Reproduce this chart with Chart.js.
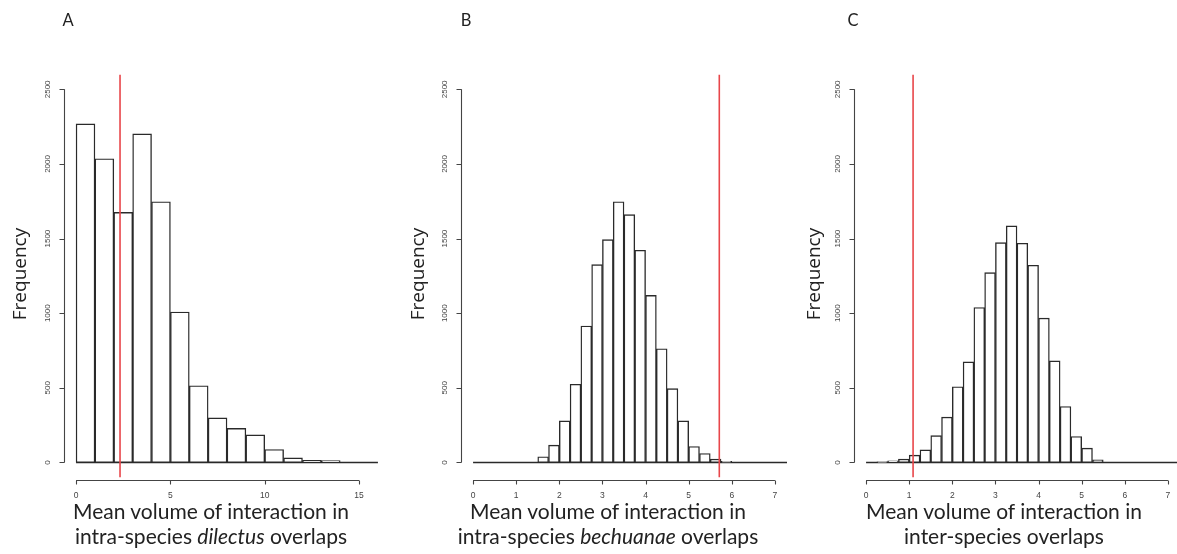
<!DOCTYPE html>
<html>
<head>
<meta charset="utf-8">
<script src="https://cdn.jsdelivr.net/npm/chart.js@4.4.1/dist/chart.umd.min.js"></script>
<style>
  html, body { margin: 0; padding: 0; background: #fff; }
  body { width: 1177px; height: 554px; position: relative; overflow: hidden; font-family: Lato, "Open Sans", sans-serif; color: #222; }
  .panel { position: absolute; top: 0; width: 395px; height: 554px; }
  .panel canvas { position: absolute; left: 0; top: 0; }
  .letter { position: absolute; top: 10px; font-size: 16.5px; width: 20px; margin-left: -10px; text-align: center; }
  .ylab { position: absolute; top: 274px; width: 120px; margin-left: -60px; margin-top: -12px; height: 24px; line-height: 24px;
          text-align: center; font-family: "Open Sans", sans-serif; font-size: 19px; transform: rotate(-90deg); }
  .xlab { position: absolute; top: 498px; width: 380px; margin-left: -190px; text-align: center; font-size: 21px; line-height: 25px; }
</style>
</head>
<body>

<div class="panel" style="left:0px"><canvas id="histA" width="395" height="554"></canvas></div>
<div class="panel" style="left:397px"><canvas id="histB" width="395" height="554"></canvas></div>
<div class="panel" style="left:790px"><canvas id="histC" width="395" height="554"></canvas></div>

<div class="letter" style="left:68px">A</div>
<div class="letter" style="left:466px">B</div>
<div class="letter" style="left:853px">C</div>

<div class="ylab" style="left:19px">Frequency</div>
<div class="ylab" style="left:417px">Frequency</div>
<div class="ylab" style="left:813px">Frequency</div>

<div class="xlab" style="left:211px">Mean volume of interaction in<br>intra-species <i>dilectus</i> overlaps</div>
<div class="xlab" style="left:608px">Mean volume of interaction in<br>intra-species <i>bechuanae</i> overlaps</div>
<div class="xlab" style="left:1004px">Mean volume of interaction in<br>inter-species overlaps</div>

<script>
// histogram counts, one entry per bin
var countsA = [2268, 2035, 1676, 2201, 1747, 1008, 514, 299, 228, 185, 87, 31, 15, 12];
var countsB = [38, 116, 279, 524, 914, 1326, 1493, 1747, 1660, 1422, 1119, 762, 495, 279, 107, 60, 22, 7];
var countsC = [4, 11, 22, 49, 84, 180, 304, 507, 674, 1038, 1272, 1473, 1585, 1469, 1321, 967, 681, 375, 174, 96, 18];

// first break and bin width
var binsA = { start: 0, width: 1 };
var binsB = { start: 1.5, width: 0.25 };
var binsC = { start: 0.25, width: 0.25 };

// observed value (red line)
var observedA = 2.33;
var observedB = 5.71;
var observedC = 1.09;

// axis ticks
var yTicks = [0, 500, 1000, 1500, 2000, 2500];
var xTicksA = [0, 5, 10, 15];
var xTicksBC = [0, 1, 2, 3, 4, 5, 6, 7];

// x range covered by the empty bins along the zero line
var rangeA = [0, 16];
var rangeBC = [0, 7.5];

// R style detached axes
var rAxes = {
    id: 'rAxes',
    afterDraw: function (chart) {
        var o = chart.options.plugins.rAxes;
        var ctx = chart.ctx, xs = chart.scales.x, ys = chart.scales.y, area = chart.chartArea;
        ctx.save();
        ctx.strokeStyle = '#444';
        ctx.lineWidth = 1.1;
        ctx.fillStyle = '#444';
        ctx.font = '8px "Liberation Sans", Arial, sans-serif';

        // y axis
        var ax = Math.round(area.left) + 0.5;
        ctx.beginPath();
        ctx.moveTo(ax, ys.getPixelForValue(o.yTicks[0]));
        ctx.lineTo(ax, ys.getPixelForValue(o.yTicks[o.yTicks.length - 1]));
        o.yTicks.forEach(function (v) {
            var p = Math.round(ys.getPixelForValue(v)) + 0.5;
            ctx.moveTo(ax, p);
            ctx.lineTo(ax - 5, p);
        });
        ctx.stroke();
        ctx.textAlign = 'center';
        ctx.textBaseline = 'middle';
        o.yTicks.forEach(function (v) {
            ctx.save();
            ctx.translate(ax - 17, ys.getPixelForValue(v));
            ctx.rotate(-Math.PI / 2);
            ctx.fillText(String(v), 0, 0);
            ctx.restore();
        });

        // x axis
        var ay = Math.round(area.bottom + 2.6) + 0.5;
        ctx.beginPath();
        ctx.moveTo(xs.getPixelForValue(o.xTicks[0]), ay);
        ctx.lineTo(xs.getPixelForValue(o.xTicks[o.xTicks.length - 1]), ay);
        o.xTicks.forEach(function (v) {
            var p = Math.round(xs.getPixelForValue(v)) + 0.5;
            ctx.moveTo(p, ay);
            ctx.lineTo(p, ay + 4);
        });
        ctx.stroke();
        ctx.font = '8.5px "Liberation Sans", Arial, sans-serif';
        o.xTicks.forEach(function (v) {
            ctx.fillText(String(v), xs.getPixelForValue(v), ay + 15);
        });
        ctx.restore();
    }
};

function binData(counts, bins) {
    return counts.map(function (c, i) {
        return { x: bins.start + (i + 0.5) * bins.width, y: c };
    });
}

function makeHist(id, counts, bins, observed, range, xTicks, pad) {
    return new Chart(document.getElementById(id), {
        type: 'bar',
        data: {
            datasets: [
                { type: 'line', data: [{ x: range[0], y: 0 }, { x: range[1], y: 0 }],
                    borderColor: '#2a2a2a', borderWidth: 1.4, pointRadius: 0, clip: 0, order: 2 },
                { data: binData(counts, bins), backgroundColor: '#fff', borderColor: '#2a2a2a',
                    borderWidth: 1.4, borderSkipped: false, barPercentage: 1, categoryPercentage: 1, order: 1 },
                { type: 'line', data: [{ x: observed, y: -100 }, { x: observed, y: 2600 }],
                    borderColor: '#e8464a', borderWidth: 1.6, pointRadius: 0, clip: 0, order: 0 }
            ]
        },
        options: {
            responsive: false,
            animation: false,
            devicePixelRatio: 1,
            layout: { padding: { left: 64, right: 5, top: 74.4, bottom: 76.6 } },
            plugins: { legend: { display: false }, tooltip: { enabled: false }, rAxes: { yTicks: yTicks, xTicks: xTicks } },
            scales: {
                x: { type: 'linear', display: false, offset: false, min: pad[0], max: pad[1],
                    afterBuildTicks: function (s) { s.ticks = xTicks.map(function (v) { return { value: v }; }); } },
                y: { display: false, min: -100, max: 2600,
                    afterBuildTicks: function (s) { s.ticks = yTicks.map(function (v) { return { value: v }; }); } }
            }
        },
        plugins: [rAxes]
    });
}

makeHist('histA', countsA, binsA, observedA, rangeA, xTicksA, [-0.64, 16.64]);
makeHist('histB', countsB, binsB, observedB, rangeBC, xTicksBC, [-0.28, 7.28]);
makeHist('histC', countsC, binsC, observedC, rangeBC, xTicksBC, [-0.28, 7.28]);
</script>
</body>
</html>
